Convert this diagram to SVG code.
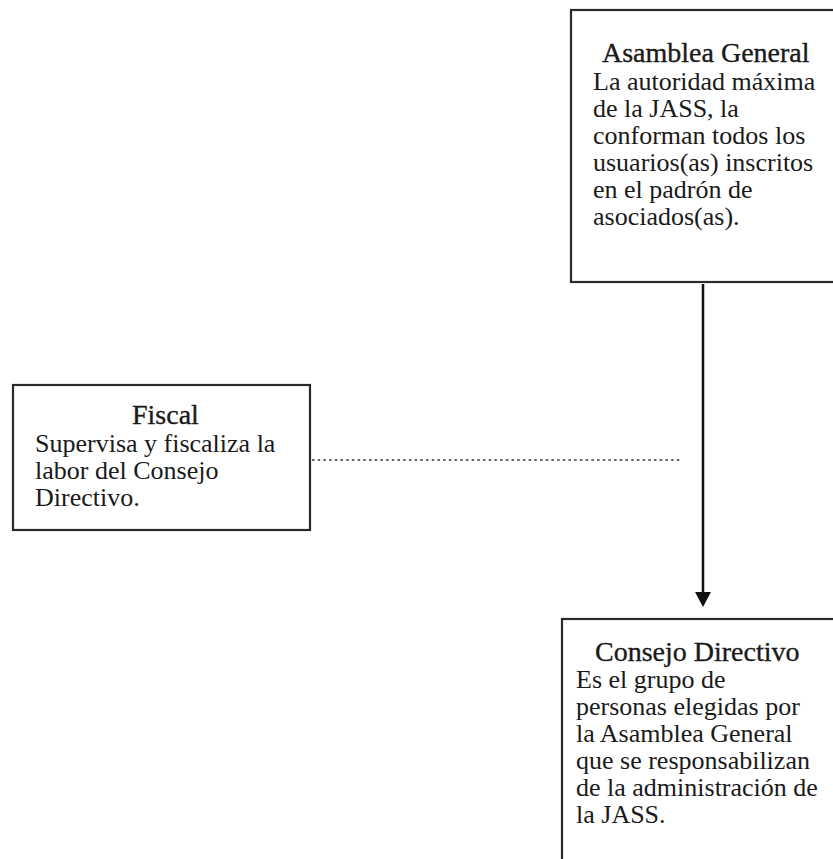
<svg xmlns="http://www.w3.org/2000/svg" width="833" height="859" viewBox="0 0 833 859">
<defs>
<style>
.box{fill:#fff;stroke:#2a2a2a;stroke-width:2.2}
.t{font-family:"Liberation Serif","Times New Roman",serif;font-size:28px;fill:#1a1a1a;stroke:#1a1a1a;stroke-width:0.35}
.b{font-family:"Liberation Serif","Times New Roman",serif;font-size:26px;fill:#1a1a1a}
</style>
</defs>
<rect width="833" height="859" fill="#fff"/>
<g id="connectors">
<line x1="703" y1="284" x2="703" y2="594" stroke="#111" stroke-width="2.5"/>
<polygon points="695,592 711,592 703,607" fill="#111"/>
<line x1="312" y1="460" x2="682" y2="460" stroke="#333" stroke-width="1.6" stroke-dasharray="2.5 3.2"/>
</g>
<g id="asamblea">
<rect class="box" x="571" y="10" width="300" height="272"/>
<text class="t" x="602" y="62">Asamblea General</text>
<text class="b" x="593" y="90">La autoridad máxima</text>
<text class="b" x="593" y="117">de la JASS, la</text>
<text class="b" x="593" y="144">conforman todos los</text>
<text class="b" x="593" y="171">usuarios(as) inscritos</text>
<text class="b" x="593" y="198">en el padrón de</text>
<text class="b" x="593" y="225">asociados(as).</text>
</g>
<g id="fiscal">
<rect class="box" x="13" y="385" width="297" height="145"/>
<text class="t" x="132" y="424">Fiscal</text>
<text class="b" x="35" y="452">Supervisa y fiscaliza la</text>
<text class="b" x="35" y="479">labor del Consejo</text>
<text class="b" x="35" y="506">Directivo.</text>
</g>
<g id="consejo">
<rect class="box" x="562" y="619" width="300" height="260"/>
<text class="t" x="595" y="661">Consejo Directivo</text>
<text class="b" x="576" y="688">Es el grupo de</text>
<text class="b" x="576" y="715">personas elegidas por</text>
<text class="b" x="576" y="742">la Asamblea General</text>
<text class="b" x="576" y="769">que se responsabilizan</text>
<text class="b" x="576" y="796">de la administración de</text>
<text class="b" x="576" y="823">la JASS.</text>
</g>
</svg>
